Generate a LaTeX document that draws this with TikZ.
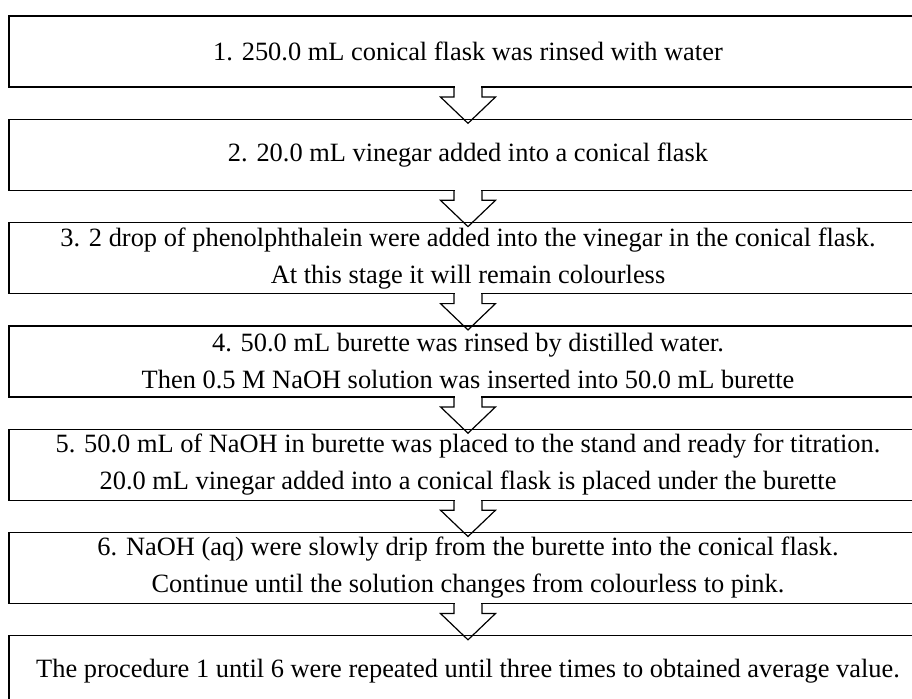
\documentclass[tikz,border=0pt]{standalone}
\usepackage{fontspec}
\setmainfont{Liberation Serif}
\usepackage{tikz}
\usetikzlibrary{positioning,calc}

\tikzset{
	stepbox/.style={draw, line width=0.6pt, rectangle, inner sep=0pt, outer sep=0pt,
		minimum width=459pt, minimum height=35.5pt, align=center,
		font=\fontsize{13.2}{18.5}\selectfont},
	flowline/.style={line width=0.6pt}
}

% Draw a hollow block arrow from the bottom of one box to the top of the next
\newcommand{\blockarrow}[2]{%
	\fill[white] ($(#1.south)+(-13,-2)$) rectangle ($(#1.south)+(13,2)$);
	\draw[flowline] ($(#1.south)+(-14,0)$) -- ++(0,10) -- ++(-13.5,0)
		-- ($(#2.north)+(0,4)$) -- ($(#1.south)+(27.5,10)$) -- ++(-13.5,0) -- ++(0,-10);
}

\begin{document}
\begin{tikzpicture}[x=0.5pt, y=-0.5pt]
	\useasboundingbox (0,0) rectangle (912,698);
	\clip (0,0) rectangle (912,698);

	% Draw the steps of the procedure, one below the other
	\node[stepbox] (step1) at (468,51.5) {1. 250.0 mL conical flask was rinsed with water};
	\node[stepbox, below=16.15pt of step1] (step2) {2. 20.0 mL vinegar added into a conical flask};
	\node[stepbox, below=16.15pt of step2] (step3) {3. 2 drop of phenolphthalein were added into the vinegar in the conical flask.\\At this stage it will remain colourless};
	\node[stepbox, below=16.15pt of step3] (step4) {4. 50.0 mL burette was rinsed by distilled water.\\Then 0.5 M NaOH solution was inserted into 50.0 mL burette};
	\node[stepbox, below=16.15pt of step4] (step5) {5. 50.0 mL of NaOH in burette was placed to the stand and ready for titration.\\20.0 mL vinegar added into a conical flask is placed under the burette};
	\node[stepbox, below=16.15pt of step5] (step6) {6. NaOH (aq) were slowly drip from the burette into the conical flask.\\Continue until the solution changes from colourless to pink.};
	\node[stepbox, below=16.15pt of step6] (step7) {The procedure 1 until 6 were repeated until three times to obtained average value.};

	% Draw the arrows between the steps
	\foreach \a/\b in {step1/step2, step2/step3, step3/step4, step4/step5, step5/step6, step6/step7}
	{\blockarrow{\a}{\b}}
\end{tikzpicture}
\end{document}
